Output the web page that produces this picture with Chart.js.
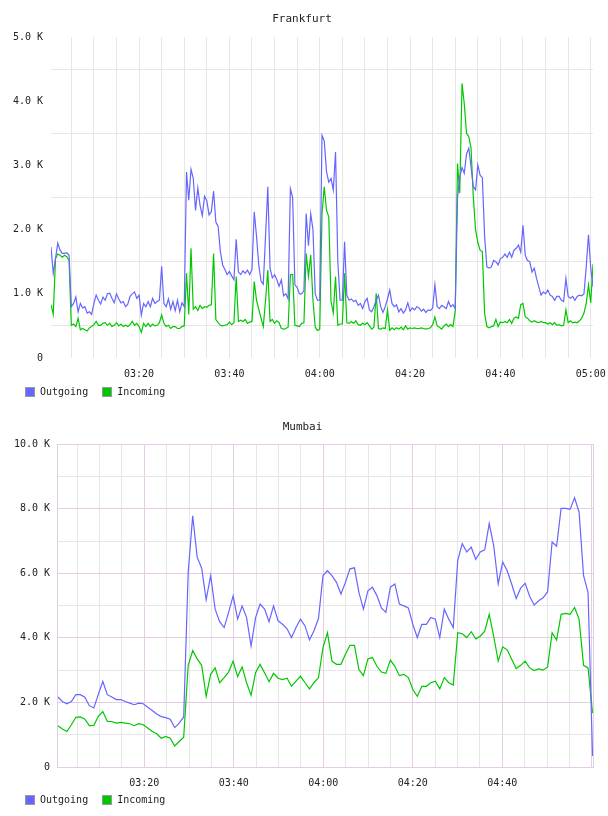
<!DOCTYPE html>
<html>
<head>
<meta charset="utf-8">
<title>Frankfurt / Mumbai traffic</title>
<script src="https://cdn.jsdelivr.net/npm/chart.js@4.4.1/dist/chart.umd.min.js"></script>
<style>
  html, body { margin: 0; padding: 0; background: #fff; }
  .box { position: absolute; left: 0; width: 608px; height: 408px; }
  #top { top: 0; }
  #bottom { top: 408px; }
  .legend {
    position: absolute; left: 25px; display: flex; align-items: center;
    font: 10px/10px "DejaVu Sans Mono", monospace; color: #222;
  }
  .legend .sw { width: 8px; height: 8px; border: 1px solid #999; margin-right: 5px; }
  .legend .tx { margin-right: 14px; white-space: pre; }
</style>
</head>
<body>
<div class="box" id="top"><canvas id="frankfurt"></canvas></div>
<div class="box" id="bottom"><canvas id="mumbai"></canvas></div>
<div class="legend" id="legend-frankfurt" style="top:387px"></div>
<div class="legend" id="legend-mumbai" style="top:795px"></div>
<script>
// FRANKFURT: one sample every 30 s, first at 03:00:30 (values in K)
const frankStart = 0.5; // minutes after 03:00
const frankStep = 0.5;
const frankOutgoing = [
  1.73, 1.32, 1.55, 1.79, 1.68, 1.63, 1.63, 1.64, 1.60, 0.80,
  0.85, 0.95, 0.72, 0.85, 0.78, 0.80, 0.70, 0.72, 0.68, 0.85,
  0.98, 0.90, 0.84, 0.95, 0.90, 1.00, 1.01, 0.93, 0.86, 1.00,
  0.92, 0.86, 0.88, 0.80, 0.84, 0.96, 1.00, 1.03, 0.93, 0.98,
  0.67, 0.85, 0.80, 0.88, 0.80, 0.93, 0.85, 0.88, 0.90, 1.43,
  0.85, 0.80, 0.92, 0.76, 0.88, 0.74, 0.90, 0.72, 0.86, 0.80,
  2.90, 2.46, 2.94, 2.80, 2.30, 2.65, 2.38, 2.22, 2.52, 2.45,
  2.23, 2.28, 2.60, 2.12, 2.05, 1.66, 1.45, 1.38, 1.30, 1.35,
  1.28, 1.22, 1.85, 1.34, 1.30, 1.36, 1.32, 1.37, 1.30, 1.38,
  2.28, 1.90, 1.45, 1.20, 1.15, 1.90, 2.67, 1.40, 1.25, 1.30,
  1.22, 1.12, 1.22, 0.97, 1.00, 0.92, 2.64, 2.50, 1.14, 1.10,
  1.00, 1.00, 1.05, 2.25, 1.75, 2.25, 2.00, 1.00, 0.90, 0.90,
  3.47, 3.38, 2.90, 2.74, 2.80, 2.62, 3.21, 1.50, 0.90, 0.90,
  1.81, 0.98, 0.90, 0.92, 0.88, 0.90, 0.82, 0.85, 0.77, 0.88,
  0.93, 0.75, 0.72, 0.80, 0.90, 0.98, 0.80, 0.71, 0.80, 0.92,
  1.06, 0.85, 0.80, 0.83, 0.72, 0.77, 0.70, 0.75, 0.86, 0.73,
  0.78, 0.75, 0.80, 0.78, 0.73, 0.76, 0.71, 0.75, 0.74, 0.78,
  1.14, 0.80, 0.77, 0.82, 0.80, 0.77, 0.88, 0.80, 0.83, 0.77,
  2.50, 2.82, 2.97, 2.88, 3.18, 3.27, 2.98, 2.67, 2.62, 3.01,
  2.85, 2.81, 1.90, 1.42, 1.40, 1.42, 1.52, 1.50, 1.45, 1.55,
  1.57, 1.62, 1.57, 1.65, 1.57, 1.68, 1.71, 1.76, 1.65, 2.07,
  1.60, 1.52, 1.50, 1.34, 1.40, 1.24, 1.11, 0.98, 1.03, 1.00,
  1.06, 0.98, 0.96, 0.90, 0.96, 0.96, 0.90, 0.88, 1.24, 0.96,
  0.93, 0.96, 0.90, 0.96, 0.98, 0.97, 1.00, 1.42, 1.92, 1.40,
  1.11
];
const frankIncoming = [
  0.83, 0.68, 1.55, 1.62, 1.60, 1.57, 1.60, 1.58, 1.52, 0.51,
  0.53, 0.49, 0.62, 0.44, 0.46, 0.44, 0.42, 0.47, 0.49, 0.52,
  0.57, 0.51, 0.51, 0.54, 0.55, 0.51, 0.54, 0.49, 0.51, 0.55,
  0.50, 0.53, 0.49, 0.51, 0.49, 0.52, 0.57, 0.51, 0.54, 0.49,
  0.40, 0.54, 0.49, 0.54, 0.49, 0.53, 0.50, 0.51, 0.55, 0.67,
  0.54, 0.49, 0.51, 0.46, 0.49, 0.49, 0.46, 0.46, 0.49, 0.50,
  1.32, 0.68, 1.71, 0.76, 0.80, 0.74, 0.82, 0.77, 0.80, 0.79,
  0.82, 0.83, 1.63, 0.60, 0.55, 0.51, 0.50, 0.51, 0.52, 0.56,
  0.52, 0.55, 1.27, 0.57, 0.59, 0.57, 0.60, 0.54, 0.56, 0.57,
  1.19, 0.90, 0.76, 0.62, 0.49, 0.90, 1.37, 0.57, 0.60, 0.54,
  0.58, 0.55, 0.46, 0.45, 0.46, 0.48, 1.30, 1.30, 0.51, 0.50,
  0.49, 0.54, 0.55, 1.63, 1.27, 1.61, 0.90, 0.48, 0.43, 0.45,
  2.25, 2.67, 2.30, 2.20, 0.88, 0.70, 1.27, 0.51, 0.53, 0.53,
  1.32, 0.55, 0.54, 0.57, 0.54, 0.58, 0.52, 0.51, 0.54, 0.52,
  0.55, 0.50, 0.45, 0.48, 1.01, 0.46, 0.45, 0.47, 0.46, 0.75,
  0.43, 0.47, 0.44, 0.47, 0.45, 0.48, 0.44, 0.50, 0.45, 0.47,
  0.46, 0.47, 0.46, 0.46, 0.47, 0.46, 0.45, 0.46, 0.47, 0.52,
  0.64, 0.50, 0.48, 0.45, 0.50, 0.53, 0.49, 0.52, 0.49, 0.73,
  3.03, 2.57, 4.28, 3.96, 3.50, 3.45, 3.27, 2.51, 2.00, 1.80,
  1.68, 1.66, 0.70, 0.49, 0.47, 0.49, 0.50, 0.60, 0.49, 0.56,
  0.55, 0.57, 0.55, 0.60, 0.54, 0.62, 0.64, 0.62, 0.83, 0.85,
  0.64, 0.62, 0.58, 0.56, 0.58, 0.56, 0.55, 0.57, 0.55, 0.55,
  0.53, 0.55, 0.52, 0.55, 0.51, 0.52, 0.50, 0.51, 0.75, 0.55,
  0.58, 0.55, 0.56, 0.55, 0.58, 0.62, 0.70, 0.85, 1.14, 0.86,
  1.46
];

// MUMBAI: roughly one sample a minute
const mumbaiStart = 0.7;
const mumbaiStep = 1.004;
const mumbaiOutgoing = [
  2.17, 2.03, 1.96, 2.03, 2.24, 2.24, 2.16, 1.90, 1.83, 2.25,
  2.65, 2.24, 2.17, 2.09, 2.09, 2.03, 1.98, 1.93, 1.98, 1.96,
  1.85, 1.75, 1.64, 1.56, 1.53, 1.48, 1.22, 1.36, 1.55, 6.03,
  7.78, 6.50, 6.16, 5.18, 5.93, 4.89, 4.50, 4.32, 4.79, 5.30,
  4.58, 4.99, 4.63, 3.75, 4.63, 5.05, 4.89, 4.50, 4.99, 4.53,
  4.42, 4.28, 4.01, 4.32, 4.58, 4.37, 3.94, 4.22, 4.60, 5.93,
  6.08, 5.93, 5.72, 5.36, 5.72, 6.14, 6.17, 5.41, 4.89, 5.46,
  5.57, 5.31, 4.93, 4.79, 5.57, 5.67, 5.05, 4.99, 4.93, 4.42,
  4.01, 4.42, 4.42, 4.63, 4.58, 4.01, 4.89, 4.58, 4.32, 6.40,
  6.92, 6.66, 6.81, 6.43, 6.66, 6.73, 7.54, 6.86, 5.67, 6.35,
  6.08, 5.67, 5.22, 5.54, 5.69, 5.29, 5.02, 5.15, 5.24, 5.43,
  6.97, 6.84, 8.01, 8.01, 7.98, 8.34, 7.90, 5.93, 5.41, 0.34
];
const mumbaiIncoming = [
  1.28, 1.18, 1.10, 1.31, 1.54, 1.55, 1.48, 1.28, 1.29, 1.57,
  1.72, 1.41, 1.41, 1.36, 1.38, 1.36, 1.34, 1.28, 1.34, 1.31,
  1.21, 1.10, 1.03, 0.89, 0.95, 0.89, 0.65, 0.79, 0.92, 3.15,
  3.61, 3.35, 3.15, 2.19, 2.87, 3.07, 2.61, 2.77, 2.94, 3.28,
  2.80, 3.10, 2.61, 2.22, 2.92, 3.18, 2.92, 2.64, 2.90, 2.75,
  2.71, 2.75, 2.50, 2.66, 2.81, 2.61, 2.42, 2.61, 2.77, 3.70,
  4.16, 3.28, 3.18, 3.18, 3.49, 3.77, 3.77, 3.02, 2.83, 3.35,
  3.39, 3.12, 2.94, 2.90, 3.31, 3.12, 2.83, 2.87, 2.77, 2.40,
  2.19, 2.50, 2.50, 2.61, 2.66, 2.42, 2.77, 2.61, 2.54, 4.16,
  4.13, 4.01, 4.19, 3.97, 4.05, 4.21, 4.73, 4.05, 3.28, 3.72,
  3.63, 3.34, 3.05, 3.15, 3.28, 3.07, 2.99, 3.04, 3.00, 3.10,
  4.16, 3.93, 4.73, 4.76, 4.73, 4.94, 4.58, 3.15, 3.07, 1.67
];

const seriesNames = ["Outgoing", "Incoming"];
const seriesColors = ["#6666ff", "#00c800"];

// x tick labels (minutes after 03:00)
const frankLabelMinutes = [20, 40, 60, 80, 100, 120];
const frankLabelTexts = ["03:20", "03:40", "04:00", "04:20", "04:40", "05:00"];
const mumbaiLabelMinutes = [20, 40, 60, 80, 100];
const mumbaiLabelTexts = ["03:20", "03:40", "04:00", "04:20", "04:40"];

const GRID = "#e6e6e6";
const MAJOR = "#e4cce4";

Chart.defaults.font.family = "'DejaVu Sans Mono', monospace";
Chart.defaults.font.size = 10;
Chart.defaults.color = "#222";

const toPoints = function (values, start, step) {
  return values.map((v, i) => ({ x: start + i * step, y: v }));
};

const makeDatasets = function (outgoing, incoming, start, step) {
  return [outgoing, incoming].map((vals, k) => ({
    label: seriesNames[k],
    data: toPoints(vals, start, step),
    borderColor: seriesColors[k],
    backgroundColor: seriesColors[k],
    borderWidth: 1.2,
    pointRadius: 0,
    tension: 0,
    fill: false,
  }));
};

// small html legend under each graph
const buildLegend = function (id) {
  const el = document.getElementById(id);
  seriesNames.forEach((name, k) => {
    const sw = document.createElement("span");
    sw.className = "sw";
    sw.style.background = seriesColors[k];
    const tx = document.createElement("span");
    tx.className = "tx";
    tx.textContent = name;
    el.appendChild(sw);
    el.appendChild(tx);
  });
};
buildLegend("legend-frankfurt");
buildLegend("legend-mumbai");

// gridlines every 5 minutes
const fiveMinuteTicks = function (scale) {
  const t = [];
  for (let m = 0; m <= 120; m += 5) {
    if (m >= scale.min && m <= scale.max) t.push({ value: m });
  }
  scale.ticks = t;
};

const fitX = function (s) {
  s.height = 22;
  s.paddingLeft = 0;
  s.paddingRight = 0;
};

const kLabel = (v) => (v === 0 ? "0" : v.toFixed(1) + " K");

// frame around the Mumbai plot
const plotFrame = {
  id: "plotFrame",
  afterDatasetsDraw(chart) {
    const a = chart.chartArea;
    const ctx = chart.ctx;
    ctx.save();
    ctx.strokeStyle = MAJOR;
    ctx.lineWidth = 1;
    ctx.strokeRect(Math.round(a.left) + 0.5, Math.round(a.top) + 0.5,
      Math.round(a.right - a.left) - 1, Math.round(a.bottom - a.top));
    ctx.restore();
  },
};

// FRANKFURT
new Chart(document.getElementById("frankfurt"), {
  type: "line",
  data: { datasets: makeDatasets(frankOutgoing, frankIncoming, frankStart, frankStep) },
  options: {
    responsive: true,
    maintainAspectRatio: false,
    animation: false,
    layout: { padding: { left: 11, right: 15, top: 0, bottom: 28 } },
    plugins: {
      title: {
        display: true,
        text: "Frankfurt",
        color: "#222",
        font: { size: 11, weight: "normal" },
        padding: { top: 13, bottom: 11 },
      },
      legend: { display: false },
      tooltip: { enabled: false },
    },
    scales: {
      x: {
        type: "linear",
        min: 0.5,
        max: 120.5,
        afterBuildTicks: fiveMinuteTicks,
        afterFit: fitX,
        border: { display: false },
        grid: { color: GRID, drawTicks: false },
        ticks: {
          autoSkip: false,
          maxRotation: 0,
          minRotation: 0,
          padding: 10,
          callback: (v) => {
            const k = frankLabelMinutes.indexOf(v);
            return k < 0 ? "" : frankLabelTexts[k];
          },
        },
      },
      y: {
        min: 0,
        max: 5,
        afterFit: (s) => { s.width = 40; },
        border: { display: false },
        grid: {
          drawTicks: false,
          color: (c) => (c.tick.value % 1 !== 0 ? GRID : "rgba(0,0,0,0)"),
        },
        ticks: {
          stepSize: 0.5,
          padding: 8,
          autoSkip: false,
          callback: (v) => (v % 1 === 0 ? kLabel(v) : ""),
        },
      },
    },
  },
});

// MUMBAI
new Chart(document.getElementById("mumbai"), {
  type: "line",
  data: { datasets: makeDatasets(mumbaiOutgoing, mumbaiIncoming, mumbaiStart, mumbaiStep) },
  options: {
    responsive: true,
    maintainAspectRatio: false,
    animation: false,
    layout: { padding: { left: 11, right: 14, top: 0, bottom: 27 } },
    plugins: {
      title: {
        display: true,
        text: "Mumbai",
        color: "#222",
        font: { size: 11, weight: "normal" },
        padding: { top: 13, bottom: 10 },
      },
      legend: { display: false },
      tooltip: { enabled: false },
    },
    scales: {
      x: {
        type: "linear",
        min: 0.5,
        max: 120.5,
        afterBuildTicks: fiveMinuteTicks,
        afterFit: fitX,
        border: { display: false },
        grid: {
          drawTicks: false,
          color: (c) => (c.tick.value % 20 === 0 ? MAJOR : GRID),
        },
        ticks: {
          autoSkip: false,
          maxRotation: 0,
          minRotation: 0,
          padding: 10,
          callback: (v) => {
            const k = mumbaiLabelMinutes.indexOf(v);
            return k < 0 ? "" : mumbaiLabelTexts[k];
          },
        },
      },
      y: {
        min: 0,
        max: 10,
        afterFit: (s) => { s.width = 46; },
        border: { display: false },
        grid: {
          drawTicks: false,
          color: (c) => (c.tick.value % 2 === 0 ? MAJOR : GRID),
        },
        ticks: {
          stepSize: 1,
          padding: 7,
          autoSkip: false,
          callback: (v) => (v % 2 === 0 ? kLabel(v) : ""),
        },
      },
    },
  },
  plugins: [plotFrame],
});
</script>
</body>
</html>
